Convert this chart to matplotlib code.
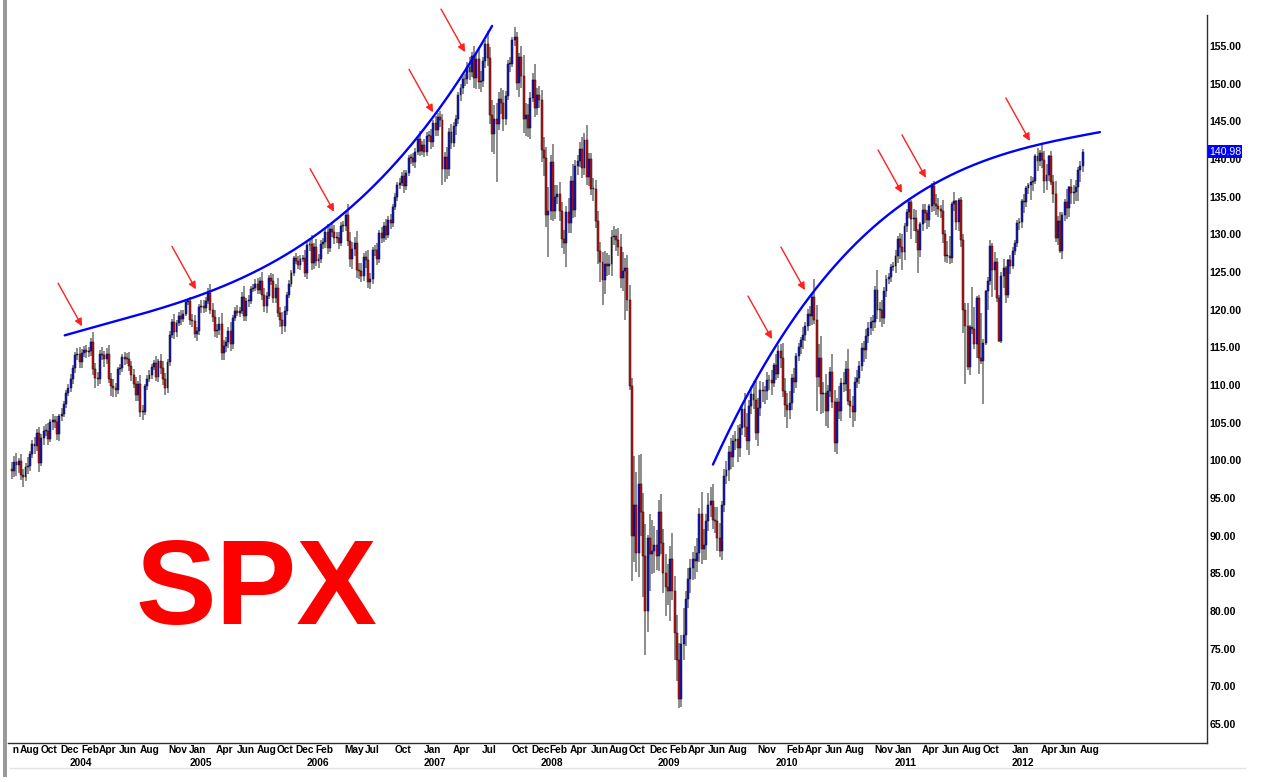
import numpy as np
import pandas as pd
import matplotlib
matplotlib.use("Agg")
import matplotlib.pyplot as plt
from matplotlib.patches import Rectangle
from matplotlib.lines import Line2D
from matplotlib.transforms import Bbox

# weekly closes (SPY), one list per year, first week ends 2003-07-04
close_2003 = [98.57, 99.81, 99.33, 99.87, 98.02, 97.76, 99.07, 99.31, 100.80, 102.14, 101.86, 103.63, 99.69,
              102.99, 103.87, 103.93, 102.89, 105.07, 105.32, 105.04, 103.53, 105.82, 106.15, 107.41, 108.87, 109.59]
close_2004 = [110.85, 112.19, 113.98, 114.16, 113.11, 114.28, 114.58, 114.41, 114.49, 115.69, 112.06, 110.98, 110.81,
              114.18, 113.93, 113.46, 114.06, 110.73, 109.87, 109.57, 109.36, 112.07, 112.25, 113.65, 113.50, 113.44,
              112.54, 111.28, 110.14, 108.62, 110.17, 106.40, 106.48, 109.84, 110.78, 111.36, 112.39, 112.86, 111.01,
              113.15, 112.21, 110.82, 109.57, 113.02, 116.62, 118.42, 117.03, 118.27, 119.12, 118.80, 119.42, 121.01, 121.19]
close_2005 = [118.62, 118.45, 116.79, 117.14, 120.30, 120.53, 120.16, 121.14, 122.21, 120.01, 119.02, 117.14,
              117.29, 118.12, 114.26, 115.21, 115.69, 117.14, 115.41, 118.93, 119.88, 119.60, 119.81, 121.70, 119.16,
              121.19, 121.19, 122.79, 122.90, 123.42, 122.64, 123.78, 121.97, 120.51, 121.80, 124.15, 123.79, 121.53,
              122.88, 119.59, 118.66, 117.78, 119.84, 122.01, 123.47, 124.83, 126.83, 126.51, 125.94, 126.73, 126.87, 124.83]
close_2006 = [128.55, 128.76, 126.15, 128.37, 126.40, 126.70, 128.72, 128.94, 130.29, 128.14, 130.73, 130.30, 129.48,
              129.55, 128.91, 131.13, 131.06, 132.58, 129.12, 126.70, 128.02, 128.82, 125.23, 125.15, 124.45, 127.02,
              126.55, 123.62, 124.03, 127.86, 127.94, 126.67, 130.23, 129.51, 131.10, 129.89, 131.97, 131.48, 133.58,
              134.96, 136.56, 136.86, 137.73, 136.43, 138.09, 140.12, 140.10, 139.67, 140.98, 142.71, 141.08, 141.83]
close_2007 = [140.97, 143.07, 143.05, 142.22, 144.84, 143.81, 145.55, 145.12, 138.72, 140.28, 138.70, 143.61, 142.09,
              144.38, 145.29, 148.44, 149.41, 150.56, 150.59, 152.28, 151.57, 153.63, 150.77, 153.29, 150.26, 150.34,
              153.04, 155.25, 153.41, 145.90, 143.31, 145.36, 144.59, 147.94, 147.40, 145.36, 148.43, 152.58, 152.68,
              155.76, 156.18, 150.06, 153.53, 150.97, 145.37, 145.87, 144.07, 148.11, 150.47, 146.80, 148.45, 147.85]
close_2008 = [141.16, 140.10, 132.52, 133.06, 139.54, 133.13, 135.00, 135.31, 133.06, 129.34, 128.81, 132.95, 131.52,
              137.04, 133.28, 139.03, 139.78, 141.39, 138.83, 142.54, 137.59, 140.04, 136.07, 136.00, 131.79, 127.84,
              126.29, 123.95, 126.07, 125.78, 126.03, 129.63, 129.82, 129.22, 128.28, 124.23, 125.17, 125.51, 121.33,
              109.92, 89.92, 94.06, 87.68, 96.88, 93.10, 87.33, 80.00, 89.62, 87.61, 87.97, 88.79, 87.28]
close_2009 = [93.18, 89.04, 85.01, 83.20, 82.59, 86.86, 82.68, 77.01, 73.51, 68.34, 75.66, 76.85, 81.59,
              84.25, 85.66, 86.96, 86.62, 87.75, 92.92, 88.29, 88.70, 91.91, 94.01, 94.62, 92.12, 91.89,
              89.64, 87.91, 94.04, 97.93, 98.75, 101.05, 100.41, 102.61, 102.89, 101.64, 104.27, 106.83, 104.44,
              102.52, 107.15, 108.77, 107.96, 103.62, 106.93, 109.35, 109.14, 109.15, 110.60, 110.64, 110.25, 112.65, 111.51]
close_2010 = [114.50, 113.60, 109.18, 107.39, 106.62, 107.55, 110.92, 110.45, 113.87, 115.00, 115.99, 116.66,
              117.81, 119.44, 119.21, 121.73, 118.67, 111.09, 113.57, 108.77, 108.94, 106.49, 109.16, 111.75, 107.68,
              102.26, 107.80, 106.49, 110.27, 110.16, 112.16, 107.93, 107.17, 106.46, 110.45, 110.96, 112.56, 114.87,
              114.62, 116.52, 117.62, 118.31, 118.33, 122.59, 119.92, 119.97, 118.94, 122.47, 124.04, 124.39, 125.68, 125.76]
close_2011 = [127.15, 129.32, 128.34, 127.63, 131.09, 132.92, 134.30, 131.99, 132.12, 130.43, 127.92, 131.38,
              133.24, 132.82, 131.97, 133.74, 136.36, 134.02, 133.78, 133.33, 133.11, 130.02, 127.10, 127.15, 126.85,
              133.97, 134.38, 131.61, 134.50, 129.23, 119.94, 117.88, 112.35, 117.68, 117.40, 115.42, 121.60, 113.64,
              113.14, 115.55, 122.46, 123.83, 128.51, 125.32, 126.39, 121.57, 115.87, 124.43, 125.52, 121.97, 126.53, 125.76]
close_2012 = [127.78, 128.91, 131.54, 131.63, 134.49, 134.26, 136.12, 136.57, 137.00, 137.09, 140.42, 139.71, 140.85,
              139.81, 137.03, 137.85, 140.34, 136.91, 135.34, 129.52, 131.78, 127.80, 132.57, 134.28, 133.50, 136.22,
              135.47, 135.68, 136.27, 138.60, 139.10, 140.98]

# upper / lower wick lengths beyond the body
up_2003 = [0.9, 0.7, 1.2, 0.5, 1.0, 0.8, 0.6, 1.1, 0.4, 0.6, 0.9, 0.5, 0.8, 0.5, 0.7, 0.9, 1.0, 0.4, 0.8, 0.6,
           0.9, 0.3, 0.8, 0.5, 0.4, 0.6]
dn_2003 = [1.1, 0.8, 1.4, 1.0, 0.6, 1.3, 0.5, 0.9, 0.7, 0.5, 1.0, 0.6, 1.2, 0.4, 0.9, 0.6, 0.8, 0.5, 1.1, 0.7,
           0.8, 0.9, 0.6, 0.4, 0.5, 0.3]
up_2004 = [0.6, 0.5, 0.4, 0.8, 0.9, 0.5, 0.6, 0.7, 0.6, 0.5, 1.3, 0.9, 0.8, 0.4, 0.9, 0.6, 0.8, 1.2, 0.8, 0.9,
           0.7, 0.3, 0.6, 0.4, 0.7, 0.8, 0.9, 0.7, 0.8, 0.9, 0.4, 1.2, 0.9, 0.3, 0.5, 0.6, 0.4, 0.5, 1.0, 0.3,
           0.9, 1.0, 0.8, 0.4, 0.5, 0.4, 1.0, 0.4, 0.6, 0.9, 0.5, 0.3, 0.4]
dn_2004 = [0.5, 0.7, 0.6, 0.6, 0.8, 0.9, 0.5, 0.8, 0.7, 0.6, 0.8, 1.4, 1.0, 0.7, 0.6, 1.1, 0.7, 0.4, 1.3, 1.2,
           0.9, 0.6, 0.7, 0.5, 0.9, 0.6, 0.7, 0.8, 0.6, 0.8, 0.7, 0.6, 1.0, 0.4, 0.5, 0.4, 0.5, 0.4, 0.5, 0.6,
           0.7, 0.8, 0.9, 0.6, 0.5, 0.4, 0.9, 0.7, 0.5, 0.8, 0.4, 0.3, 0.4]
up_2005 = [0.5, 0.8, 0.9, 0.6, 0.4, 0.7, 0.8, 0.5, 0.6, 1.2, 0.9, 1.0, 0.8, 0.9, 1.5, 0.8, 0.7, 0.6, 1.2, 0.4,
           0.5, 0.7, 0.5, 0.6, 1.4, 0.3, 0.8, 0.4, 0.5, 0.6, 0.8, 0.5, 1.2, 0.9, 0.6, 0.4, 0.7, 1.0, 0.5, 1.3,
           0.8, 1.0, 0.6, 0.4, 0.5, 0.4, 0.3, 0.7, 0.6, 0.5, 0.4, 1.0]
dn_2005 = [0.7, 0.8, 0.6, 0.9, 0.5, 0.7, 0.6, 0.5, 0.4, 0.6, 0.7, 0.8, 0.9, 0.6, 0.9, 1.0, 0.8, 0.8, 0.9, 0.6,
           0.5, 0.5, 0.6, 0.4, 0.7, 0.6, 0.8, 0.4, 0.5, 0.4, 0.6, 0.5, 0.7, 0.8, 0.9, 0.4, 0.5, 0.6, 0.7, 0.5,
           0.9, 1.0, 0.8, 0.6, 0.4, 0.5, 0.4, 0.5, 0.6, 0.7, 0.4, 0.5]
up_2006 = [0.6, 0.8, 1.1, 0.5, 1.0, 0.7, 0.5, 0.6, 0.5, 1.1, 0.4, 0.8, 0.9, 0.7, 0.8, 0.5, 0.6, 0.4, 1.5, 1.2,
           0.9, 0.8, 1.6, 0.9, 1.0, 0.5, 0.8, 1.4, 0.9, 0.4, 0.6, 0.9, 0.4, 0.8, 0.5, 0.9, 0.4, 0.7, 0.4, 0.5,
           0.4, 0.6, 0.5, 0.8, 0.5, 0.4, 0.6, 0.7, 0.5, 0.4, 1.0, 0.6]
dn_2006 = [0.8, 0.7, 0.9, 0.8, 0.6, 0.9, 0.5, 0.6, 0.7, 0.8, 0.5, 0.6, 0.8, 0.6, 0.9, 0.4, 0.7, 0.6, 0.7, 1.1,
           1.3, 0.9, 1.0, 1.1, 0.8, 0.6, 1.0, 0.8, 0.9, 0.6, 0.7, 0.8, 0.5, 0.6, 0.5, 0.7, 0.4, 0.8, 0.5, 0.4,
           0.5, 0.6, 0.5, 0.9, 0.6, 0.4, 0.7, 0.6, 0.8, 0.5, 0.7, 0.6]
up_2007 = [0.8, 0.5, 0.6, 0.9, 0.4, 0.9, 0.5, 0.8, 0.9, 0.7, 1.3, 0.5, 1.1, 0.6, 0.5, 0.4, 0.6, 0.5, 0.7, 0.6,
           1.2, 0.6, 1.4, 0.8, 1.3, 1.4, 0.5, 0.5, 1.8, 1.5, 2.0, 1.8, 2.1, 0.9, 1.5, 1.7, 0.6, 0.6, 0.8, 0.4,
           1.3, 0.7, 0.6, 1.5, 2.8, 1.6, 1.4, 0.8, 0.9, 2.2, 1.0, 1.3]
dn_2007 = [0.7, 0.6, 0.8, 0.9, 0.6, 0.8, 0.7, 0.9, 2.2, 1.8, 1.4, 0.9, 0.8, 0.5, 1.2, 0.6, 0.7, 0.8, 0.9, 0.6,
           1.1, 0.7, 1.3, 1.5, 0.9, 1.4, 0.8, 0.9, 1.0, 1.2, 2.4, 2.6, 7.6, 0.8, 1.4, 1.6, 0.9, 0.6, 1.0, 0.5,
           0.8, 0.9, 1.8, 1.5, 1.9, 2.3, 1.2, 1.4, 0.6, 1.2, 0.9, 1.1]
up_2008 = [1.3, 1.8, 1.5, 3.2, 1.0, 2.5, 1.5, 1.2, 1.6, 1.2, 1.3, 0.8, 1.9, 0.7, 2.3, 0.9, 0.8, 0.9, 1.5, 0.9,
           2.0, 0.7, 0.8, 1.4, 1.2, 1.3, 1.2, 1.4, 1.7, 1.4, 1.2, 0.9, 1.3, 0.9, 1.6, 1.7, 2.5, 1.3, 1.8, 2.0,
           1.0, 6.5, 4.4, 3.8, 4.0, 2.5, 4.2, 0.5, 3.2, 4.1, 2.5, 1.9]
dn_2008 = [1.5, 2.3, 1.6, 5.5, 1.2, 1.3, 1.1, 1.0, 1.3, 1.2, 1.4, 3.1, 1.4, 1.3, 1.1, 1.0, 1.2, 0.9, 1.3, 1.0,
           1.1, 1.2, 0.9, 1.6, 1.0, 1.8, 2.6, 3.3, 1.9, 1.3, 1.2, 1.5, 1.0, 1.4, 1.1, 1.4, 1.8, 6.5, 1.5, 0.6,
           6.0, 3.4, 2.5, 3.2, 3.2, 5.5, 5.9, 2.8, 5.0, 2.7, 2.9, 1.8]
up_2009 = [1.5, 2.4, 1.8, 2.6, 3.0, 1.7, 3.5, 2.0, 2.4, 2.2, 1.2, 3.6, 1.0, 1.5, 1.3, 0.9, 1.6, 2.0, 0.8, 2.9,
           2.2, 0.9, 1.6, 1.8, 2.3, 1.7, 1.9, 2.1, 0.6, 0.9, 1.2, 0.8, 1.9, 0.7, 1.0, 1.8, 0.6, 0.7, 2.1, 1.9,
           0.8, 1.0, 1.7, 2.6, 1.4, 1.2, 1.1, 0.7, 1.1, 0.7, 1.3, 0.3, 1.4]
dn_2009 = [2.0, 1.5, 2.6, 3.9, 1.8, 3.9, 1.2, 3.5, 2.8, 1.2, 1.1, 2.2, 1.5, 1.2, 1.9, 1.6, 2.4, 1.5, 1.3, 2.0,
           1.5, 1.9, 1.3, 1.6, 1.2, 1.5, 1.7, 0.8, 1.1, 0.9, 1.1, 1.5, 1.6, 1.3, 1.2, 1.9, 1.2, 0.9, 1.3, 1.2,
           1.8, 1.0, 1.1, 0.9, 1.7, 1.0, 1.4, 1.7, 1.1, 1.3, 1.6, 0.5, 0.8]
up_2010 = [0.8, 0.9, 2.0, 1.8, 1.5, 1.6, 0.6, 1.3, 0.4, 0.6, 0.4, 1.0, 0.5, 0.6, 1.1, 0.5, 2.4, 2.0, 1.9, 3.0,
           1.5, 2.5, 0.8, 0.7, 2.3, 1.6, 0.5, 2.0, 0.6, 1.5, 1.0, 2.6, 1.5, 1.4, 0.6, 1.0, 0.6, 0.7, 1.0, 0.9,
           0.8, 0.7, 0.9, 0.6, 2.7, 1.0, 1.3, 0.5, 0.6, 0.5, 0.4, 0.6]
dn_2010 = [0.6, 1.4, 0.8, 1.6, 2.3, 1.2, 0.9, 1.5, 0.8, 0.7, 0.9, 1.2, 0.8, 0.6, 1.4, 1.2, 0.6, 4.5, 1.3, 2.6,
           2.5, 2.0, 2.2, 0.8, 0.7, 1.2, 1.4, 1.0, 1.3, 1.1, 0.9, 0.6, 1.5, 2.1, 1.2, 0.9, 0.8, 0.7, 1.6, 1.2,
           0.9, 1.0, 1.1, 0.8, 1.1, 1.6, 1.3, 0.9, 0.8, 0.6, 0.7, 0.5]
up_2011 = [0.8, 0.5, 0.9, 1.7, 0.4, 0.5, 0.5, 0.3, 1.3, 1.1, 0.3, 0.2, 0.8, 0.8, 0.4, 0.3, 0.5, 0.7, 1.4, 1.0,
           0.6, 1.4, 0.5, 2.0, 2.6, 0.3, 1.3, 0.2, 0.3, 0.4, 0.8, 0.9, 3.0, 0.3, 5.3, 3.0, 0.2, 0.4, 5.9, 0.5,
           0.2, 0.5, 0.8, 0.3, 1.3, 0.5, 0.4, 0.6, 1.2, 0.3, 0.2, 0.7]
dn_2011 = [0.9, 1.0, 1.6, 2.3, 1.0, 0.8, 0.7, 2.6, 1.5, 1.6, 3.0, 0.9, 0.9, 1.3, 1.2, 1.0, 0.8, 0.9, 1.2, 1.0,
           1.0, 1.2, 0.8, 0.9, 0.8, 0.6, 0.9, 1.0, 1.2, 0.9, 3.1, 7.7, 0.4, 1.0, 0.6, 0.7, 1.8, 2.2, 0.3, 5.6,
           0.3, 2.5, 0.5, 3.7, 2.7, 0.6, 0.2, 0.3, 1.6, 1.1, 0.4, 1.0]
up_2012 = [0.6, 0.4, 0.3, 0.6, 0.2, 0.8, 0.3, 0.3, 0.8, 0.5, 0.3, 1.0, 0.3, 1.3, 1.2, 1.5, 0.2, 0.7, 1.0, 1.8,
           0.6, 1.2, 0.4, 0.4, 1.7, 0.2, 1.1, 0.9, 1.0, 0.3, 0.7, 0.3]
dn_2012 = [0.4, 0.5, 0.6, 0.9, 0.8, 1.4, 0.6, 0.7, 2.0, 1.3, 0.4, 1.3, 0.6, 1.0, 1.6, 1.1, 0.8, 0.3, 1.2, 0.6,
           1.0, 0.3, 1.1, 0.8, 1.5, 1.2, 1.5, 1.5, 1.2, 1.8, 1.7, 0.8]
first_open = 98.9

# x-axis labels (first weekly bar of each month)
month_labels = ["2003-06", "2003-08", "2003-10", "2003-12", "2004-02", "2004-04", "2004-06", "2004-08",
                "2004-11", "2005-01", "2005-04", "2005-06", "2005-08", "2005-10", "2005-12", "2006-02",
                "2006-05", "2006-07", "2006-10", "2007-01", "2007-04", "2007-07", "2007-10", "2007-12",
                "2008-02", "2008-04", "2008-06", "2008-08", "2008-10", "2008-12", "2009-02", "2009-04",
                "2009-06", "2009-08", "2009-11", "2010-02", "2010-04", "2010-06", "2010-08", "2010-11",
                "2011-01", "2011-04", "2011-06", "2011-08", "2011-10", "2012-01", "2012-04", "2012-06", "2012-08"]
year_labels = ["2004", "2005", "2006", "2007", "2008", "2009", "2010", "2011", "2012"]
y_ticks = [65, 70, 75, 80, 85, 90, 95, 100, 105, 110, 115, 120, 125, 130, 135, 140, 145, 150, 155]

# hand-drawn resistance arcs (week index, price) and arrow tips
arc1_x = [23.4, 78.1, 116.7, 147.7, 178.8, 199.6, 213.0]
arc1_y = [116.6, 121.3, 126.6, 132.7, 142.8, 150.75, 157.8]
arc2_x = [311.0, 354.0, 397.0, 407.3, 428.0, 456.0, 482.7]
arc2_y = [99.4, 121.9, 134.3, 136.3, 139.4, 142.1, 143.5]
arrow_x = [31.1, 81.6, 142.9, 186.8, 201.0, 337.2, 351.8, 394.9, 405.5, 451.6]
arrow_y = [117.8, 122.7, 133.0, 146.2, 154.2, 116.1, 122.6, 135.5, 137.5, 142.4]

close = np.array(close_2003 + close_2004 + close_2005 + close_2006 + close_2007 + close_2008 +
                 close_2009 + close_2010 + close_2011 + close_2012)
up_w = np.array(up_2003 + up_2004 + up_2005 + up_2006 + up_2007 + up_2008 +
                up_2009 + up_2010 + up_2011 + up_2012)
dn_w = np.array(dn_2003 + dn_2004 + dn_2005 + dn_2006 + dn_2007 + dn_2008 +
                dn_2009 + dn_2010 + dn_2011 + dn_2012)
weeks = pd.date_range("2003-07-04", periods=len(close), freq="W-FRI")
xi = np.arange(len(close))
opn = np.r_[first_open, close[:-1]]
hi = np.maximum(opn, close) + up_w
lo = np.minimum(opn, close) - dn_w

W, H = 1263, 782
fig = plt.figure(figsize=(W / 100, H / 100), dpi=100)
ax = fig.add_axes([8 / W, 1 - 743 / H, (1207 - 8) / W, (743 - 15) / H])
ax.set_xlim(-1.77, 530.2)
ax.set_ylim(62.47, 159.12)

lab_font = ["Liberation Sans", "DejaVu Sans"]

# candles
ax.vlines(xi, lo, hi, color="#6e6e6e", lw=1.1, zorder=2)
body = np.abs(close - opn)
body = np.where(body < 0.12, 0.12, body)
cols = np.where(close >= opn, "#1414d2", "#cc1010")
ax.bar(xi, body, bottom=np.minimum(opn, close), width=0.86, color=cols,
       edgecolor="#101010", linewidth=0.35, zorder=3)

# arcs
for ax_x, ax_y in ((arc1_x, arc1_y), (arc2_x, arc2_y)):
    c = np.polyfit(ax_x, ax_y, 3)
    xx = np.linspace(ax_x[0], ax_x[-1], 300)
    ax.plot(xx, np.polyval(c, xx), color="#0000ff", lw=1.7, solid_capstyle="round", zorder=4)

# arrows
for tx, ty in zip(arrow_x, arrow_y):
    ax.annotate("", xy=(tx, ty), xytext=(-24, 43), textcoords="offset pixels",
                arrowprops=dict(arrowstyle="-|>", color="#ff2020", lw=1.0,
                                mutation_scale=11, shrinkA=0, shrinkB=0), zorder=5)

# y axis on the right
ax.yaxis.tick_right()
ax.set_yticks(y_ticks)
ax.set_yticklabels([f"{v:.2f}" for v in y_ticks], fontfamily=lab_font, fontweight="bold", fontsize=7.6)
ax.tick_params(axis="y", length=0, pad=2)
ax.set_xticks([])
for s in ("top", "left"):
    ax.spines[s].set_visible(False)
for s in ("right", "bottom"):
    ax.spines[s].set_color("#303030")
    ax.spines[s].set_linewidth(1.0)

# last price tag
ax.text(1.0015, close[-1], f"{close[-1]:.2f}", transform=ax.get_yaxis_transform(),
        ha="left", va="center", color="white", fontsize=7.6, fontfamily=lab_font,
        bbox=dict(boxstyle="square,pad=0.12", fc="#0000ff", ec="none"), zorder=10, clip_on=False)

# month / year labels
def week_pos(ts):
    days = pd.date_range(ts, periods=7, freq="D")
    fri = days[days.weekday == 4][0]
    return (fri - weeks[0]).days / 7.0

trans = ax.get_xaxis_transform()
clip = Bbox.from_extents(13, 0, W, H)
for m in month_labels:
    ts = pd.Timestamp(m + "-01")
    t = ax.text(week_pos(ts) - 0.4, -0.003, ts.strftime("%b"), transform=trans, ha="left", va="top",
                fontsize=7.3, fontweight="bold", fontfamily=lab_font, clip_on=True)
    t.set_clip_box(clip)
for y in year_labels:
    ts = pd.Timestamp(y + "-01-01")
    ax.text(week_pos(ts) - 0.4, -0.020, y, transform=trans, ha="left", va="top",
            fontsize=7.3, fontweight="bold", fontfamily=lab_font, clip_on=False)

# big ticker text
fig.text(136 / W, 1 - 624 / H, "SPX", color="#ff0000", fontsize=87, fontweight="bold",
         fontfamily=["Liberation Sans", "DejaVu Sans"], ha="left", va="baseline")

# frame decorations
fig.add_artist(Rectangle((3 / W, 1 - 777 / H), 4 / W, 777 / H, transform=fig.transFigure,
                         fc="#9a9a9a", ec="none", zorder=20))
fig.add_artist(Line2D([10 / W, 1245 / W], [1 - 768 / H, 1 - 768 / H], transform=fig.transFigure,
                      color="#e2e2e2", lw=1.0))

fig.savefig("out.png", dpi=100)
